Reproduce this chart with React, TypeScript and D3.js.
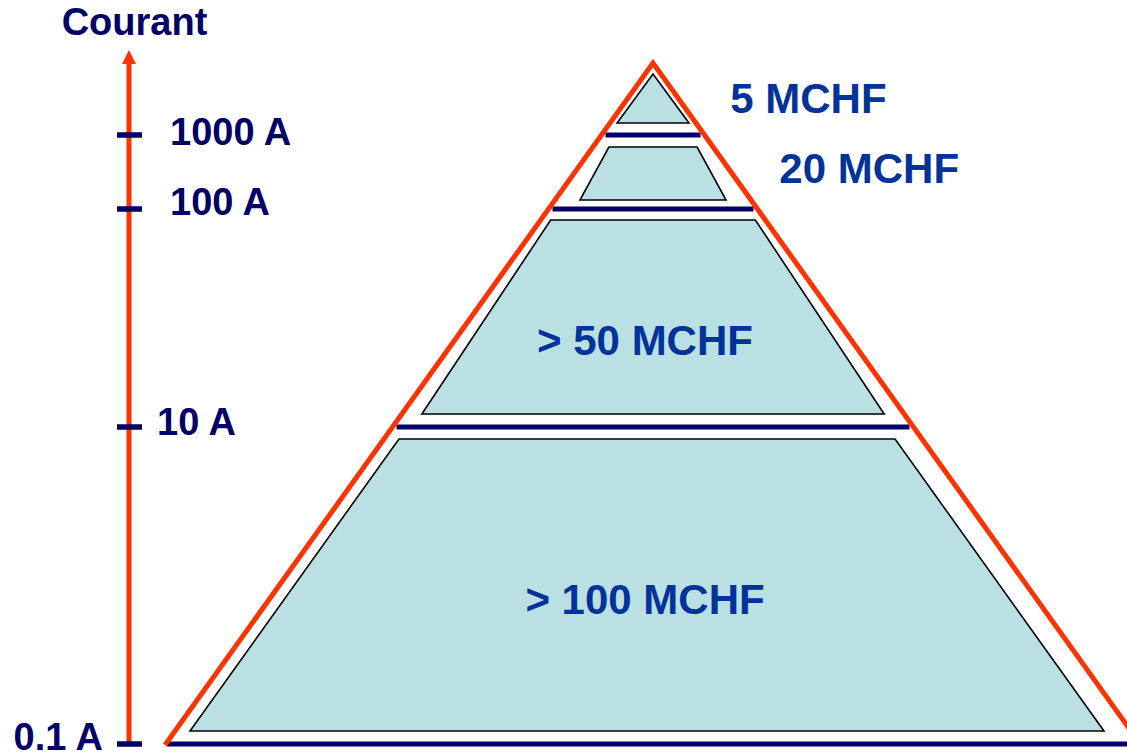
import { useMemo } from 'react';
import * as d3 from 'd3';

const WIDTH = 1127;
const HEIGHT = 756;

// current levels on the left axis (amperes) and their labels
const CURRENTS = [0.1, 10, 100, 1000];
const CURRENT_LABELS = ['0.1 A', '10 A', '100 A', '1000 A'];
// cost of each tier, from the base of the pyramid up to the top
const TIER_COSTS = ['> 100 MCHF', '> 50 MCHF', '20 MCHF', '5 MCHF'];
const AXIS_TITLE = 'Courant';

// the drawing is not a true log scale, so use piecewise stops (4 = apex)
const LOG_STOPS = [-1, 1, 2, 3, 4];
const Y_STOPS = [745, 427, 209, 135, 63];
const CX = 653;
const BASE_HALF = 488;
const AXIS_X = 129;

const NAVY = '#000066';
const BLUE = '#003399';
const RED = '#FF3300';
const FILL = '#BBE0E3';
const FONT = '"Liberation Sans", Arial, Helvetica, sans-serif';

// inner shapes: gap to the level lines and inset to the red outline, px
const INNER = [
    { gapTop: 12, gapBottom: 14, insetTop: 21, insetBottom: 21, dx: -6 },
    { gapTop: 11, gapBottom: 13, insetTop: 10, insetBottom: 20, dx: 0 },
    { gapTop: 12, gapBottom: 9, insetTop: 16, insetBottom: 25, dx: 0 },
    { gapTop: 11, gapBottom: 12, insetTop: 8, insetBottom: 7, dx: 0 },
];

// where the cost labels sit (fraction down the tier, offset in x)
const COST_POS = [
    { outside: false, f: 0.54, dx: -8 },
    { outside: false, f: 0.6, dx: -8 },
    { outside: true, f: 0.45, dx: 51 },
    { outside: true, f: 0.49, dx: 52 },
];

// left labels: x and baseline shift
const CURRENT_POS = [
    { x: 103, dy: 6, anchor: 'end' },
    { x: 157, dy: 8, anchor: 'start' },
    { x: 170, dy: 6, anchor: 'start' },
    { x: 170, dy: 10, anchor: 'start' },
];

export default function App() {
    const yScale = useMemo(
        () => d3.scaleLinear().domain(LOG_STOPS).range(Y_STOPS),
        []
    );
    const apexY = yScale(LOG_STOPS[LOG_STOPS.length - 1]);
    const baseY = yScale(Math.log10(CURRENTS[0]));

    // half width of the red pyramid at a given y
    const half = useMemo(
        () => d3.scaleLinear().domain([apexY, baseY]).range([0, BASE_HALF]),
        [apexY, baseY]
    );

    const levelY = CURRENTS.map((c) => yScale(Math.log10(c)));

    const outline = d3.line()([
        [CX - half(baseY), baseY],
        [CX, apexY],
        [CX + half(baseY), baseY],
    ]);

    const tiers = TIER_COSTS.map((cost, i) => {
        const yBottom = levelY[i];
        const yTop = i < CURRENTS.length - 1 ? levelY[i + 1] : apexY;
        const s = INNER[i];
        const t = yTop + s.gapTop;
        const b = yBottom - s.gapBottom;
        const ht = Math.max(0, half(t) - s.insetTop);
        const hb = half(b) - s.insetBottom;
        const cx = CX + s.dx;
        const pts: [number, number][] =
            ht === 0
                ? [[cx, t], [cx + hb, b], [cx - hb, b]]
                : [[cx - ht, t], [cx + ht, t], [cx + hb, b], [cx - hb, b]];
        const path = d3.line()(pts) + 'Z';

        const p = COST_POS[i];
        const fs = 42;
        const cy = yTop + (yBottom - yTop) * p.f;
        const lx = p.outside ? CX + half(cy) + p.dx : CX + p.dx;
        return (
            <g key={cost}>
                <path d={path} fill={FILL} stroke="#000" strokeWidth={1.6} strokeLinejoin="miter" />
                <text
                    x={lx}
                    y={cy + fs * 0.358}
                    textAnchor={p.outside ? 'start' : 'middle'}
                    fontSize={fs}
                    fontWeight="bold"
                    fill={BLUE}
                >
                    {cost}
                </text>
            </g>
        );
    });

    const separators = levelY.map((y, i) => {
        const y0 = i === 0 ? y - 1 : y;
        const h = half(y0) - (i === 0 ? 1 : 4);
        return (
            <line
                key={i}
                x1={CX - h}
                x2={CX + h}
                y1={y0}
                y2={y0}
                stroke={NAVY}
                strokeWidth={5}
            />
        );
    });

    const ticks = levelY.map((y, i) => {
        const y0 = i === 0 ? y - 1 : y;
        const pos = CURRENT_POS[i];
        return (
            <g key={i}>
                <line x1={AXIS_X - 12} x2={AXIS_X + 13} y1={y0} y2={y0} stroke={NAVY} strokeWidth={5.5} />
                <text
                    x={pos.x}
                    y={y0 + pos.dy}
                    textAnchor={pos.anchor as 'start' | 'end'}
                    fontSize={38}
                    fontWeight="bold"
                    fill={NAVY}
                >
                    {CURRENT_LABELS[i]}
                </text>
            </g>
        );
    });

    const arrowTip = 50;
    const arrowBase = 64;

    return (
        <svg
            width={WIDTH}
            height={HEIGHT}
            viewBox={`0 0 ${WIDTH} ${HEIGHT}`}
            style={{ position: 'absolute', left: 0, top: 0, background: '#fff' }}
            fontFamily={FONT}
        >
            {/* vertical current axis */}
            <line
                x1={AXIS_X}
                x2={AXIS_X}
                y1={levelY[0] - 1}
                y2={arrowBase}
                stroke={RED}
                strokeWidth={5}
            />
            <path
                d={`M${AXIS_X},${arrowTip}L${AXIS_X + 7},${arrowBase}L${AXIS_X - 7},${arrowBase}Z`}
                fill={RED}
            />
            <text
                x={134.5}
                y={35}
                textAnchor="middle"
                fontSize={38}
                fontWeight="bold"
                fill={NAVY}
            >
                {AXIS_TITLE}
            </text>
            {ticks}

            {tiers}
            {separators}
            <path d={outline ?? ''} fill="none" stroke={RED} strokeWidth={5} strokeLinejoin="miter" />
        </svg>
    );
}
